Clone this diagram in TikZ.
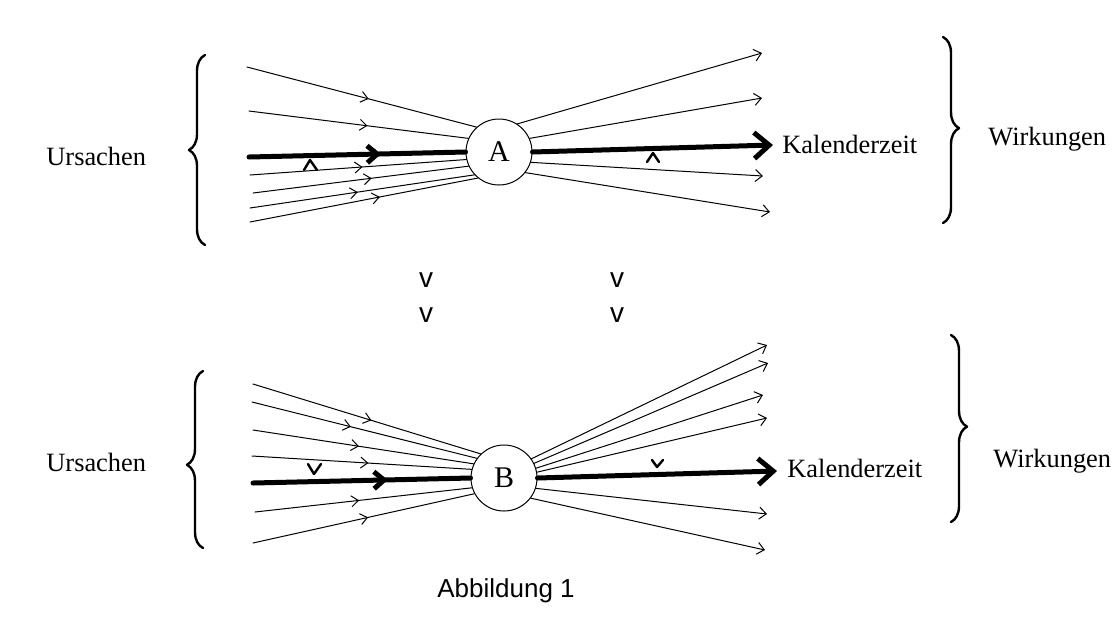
\documentclass[tikz,border=0pt]{standalone}
\usepackage{fontspec}
\setmainfont{Liberation Serif}
\setsansfont{Liberation Sans}
\usetikzlibrary{arrows.meta,decorations.markings,decorations.pathreplacing}

\begin{document}
\begin{tikzpicture}[x=0.5pt, y=-0.5pt, line join=round, line cap=round, font=\fontsize{13.2}{15}\selectfont,
	ray/.style={line width=0.5pt, postaction={decorate}, decoration={markings, mark=at position #1 with {\arrow{Straight Barb[length=3.5pt,width=5.5pt]}}}},
	outray/.style={line width=0.5pt, -{Straight Barb[length=3.5pt,width=6pt]}},
	zeitin/.style={line width=2.5pt, postaction={decorate}, decoration={markings, mark=at position #1 with {\arrow{Straight Barb[length=5pt,width=8.5pt]}}}},
	zeitout/.style={line width=2.5pt, -{Straight Barb[length=7.5pt,width=13pt]}},
	knoten/.style={draw, circle, line width=0.5pt, minimum size=33pt, inner sep=0pt, font=\fontsize{15}{15}\selectfont},
	klammer/.style={line width=1.2pt, decorate, decoration={brace, amplitude=8pt, aspect=#1}},
	marke/.style={line width=1.2pt},
	txt/.style={inner sep=0pt, anchor=base west}]
\useasboundingbox (0,0) rectangle (1118,628);

% oben: A
\node[knoten] (A) at (499,152) {A};
\path (247,67)coordinate(a1) (249,111)coordinate(a2) (249,157)coordinate(a3) (250,175)coordinate(a4)
	(253,193)coordinate(a5) (250,208)coordinate(a6) (250,222)coordinate(a7);
\path (762,53)coordinate(b1) (762,98)coordinate(b2) (773,145)coordinate(b3) (763,176)coordinate(b4) (770,212)coordinate(b5);

\draw[ray=0.53] (a1)--(A.132);
\draw[ray=0.54] (a2)--(A.156);
\draw[zeitin=0.61] (a3)--(A.180);
\draw[ray=0.52] (a4)--(A.193);
\draw[ray=0.55] (a5)--(A.205);
\draw[ray=0.48] (a6)--(A.223);
\draw[ray=0.57] (a7)--(A.231);

\draw[outray] (A.57)--(b1);
\draw[outray] (A.24)--(b2);
\draw[zeitout] (A.0)--(b3);
\draw[outray] (A.342)--(b4);
\draw[outray] (A.322)--(b5);

\draw[marke] (304,170)--(310,160)--(317,170);
\draw[marke] (647,162)--(653,153)--(659,162);

\draw[klammer=0.5] (205,245)--(205,55);
\draw[klammer=0.49] (943,37)--(943,223);
\node[txt] (u1) at (46,165) {Ursachen};
\node[txt] (k1) at (782,153) {Kalenderzeit};
\node[txt] (w1) at (988,145) {Wirkungen};

% Mitte
\node[inner sep=0pt, anchor=base, font=\sffamily\fontsize{14}{14}\selectfont] (v1) at (426,287) {v};
\node[inner sep=0pt, anchor=base, font=\sffamily\fontsize{14}{14}\selectfont] (v2) at (617,287) {v};
\node[inner sep=0pt, anchor=base, font=\sffamily\fontsize{14}{14}\selectfont] (v3) at (426,322) {v};
\node[inner sep=0pt, anchor=base, font=\sffamily\fontsize{14}{14}\selectfont] (v4) at (617,322) {v};

% unten: B
\node[knoten] (B) at (504,478) {B};
\path (253,384)coordinate(c1) (252,402)coordinate(c2) (253,430)coordinate(c3) (252,456)coordinate(c4)
	(253,483)coordinate(c5) (255,512)coordinate(c6) (253,543)coordinate(c7);
\path (767,345)coordinate(d1) (768,363)coordinate(d2) (763,395)coordinate(d3) (767,418)coordinate(d4)
	(777,471)coordinate(d5) (767,514)coordinate(d6) (765,550)coordinate(d7);

\draw[ray=0.52] (c1)--(B.134);
\draw[ray=0.44] (c2)--(B.144);
\draw[ray=0.48] (c3)--(B.155);
\draw[ray=0.53] (c4)--(B.165);
\draw[zeitin=0.62] (c5)--(B.180);
\draw[ray=0.48] (c6)--(B.197);
\draw[ray=0.52] (c7)--(B.208);

\draw[outray] (B.35)--(d1);
\draw[outray] (B.26)--(d2);
\draw[outray] (B.17)--(d3);
\draw[outray] (B.10)--(d4);
\draw[zeitout] (B.0)--(d5);
\draw[outray] (B.342)--(d6);
\draw[outray] (B.323)--(d7);

\draw[marke] (308,464)--(314,474)--(321,464);
\draw[marke] (652,460)--(657,467)--(663,460);

\draw[klammer=0.47] (203,548)--(203,371);
\draw[klammer=0.49] (951,335)--(951,522);
\node[txt] (u2) at (46,471) {Ursachen};
\node[txt] (k2) at (787,477) {Kalenderzeit};
\node[txt] (w2) at (993,467) {Wirkungen};

\node[inner sep=0pt, anchor=base west, font=\sffamily\fontsize{13}{13}\selectfont] (abb) at (437,597) {Abbildung 1};
\end{tikzpicture}
\end{document}
